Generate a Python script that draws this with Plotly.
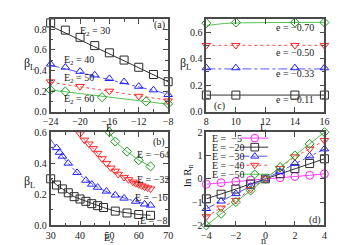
import plotly.graph_objects as go

W, H = 350, 245
def px(x): return x / W
def py(y): return 1 - y / H

SERIF = "Liberation Serif"
TXT = "#1a1a1a"
FRAME = "#4a4a4a"

# ---------------- Panel (a): beta_L vs E ----------------
a_E30_x = [-24, -22, -20, -18, -16, -14, -12, -10, -8]
a_E30_y = [0.86, 0.79, 0.72, 0.64, 0.57, 0.50, 0.43, 0.36, 0.29]
a_E40_x = [-24, -22, -20, -18, -16, -14, -12, -10, -8]
a_E40_y = [0.46, 0.43, 0.39, 0.355, 0.32, 0.29, 0.245, 0.21, 0.165]
a_E50_x = [-24, -20, -16, -12, -8]
a_E50_y = [0.29, 0.245, 0.20, 0.15, 0.105]
a_E60_x = [-24, -22, -17, -11, -8]
a_E60_y = [0.21, 0.195, 0.14, 0.10, 0.075]
a_fit_x = [-24, -8]
a_fit30 = [0.83, 0.29]
a_fit40 = [0.45, 0.17]
a_fit50 = [0.285, 0.11]
a_fit60 = [0.21, 0.072]

# ---------------- Panel (c): beta_L vs L ----------------
c_L = [8, 10, 14, 16]
c_e070 = [0.667, 0.672, 0.672, 0.672]
c_e050 = [0.50, 0.50, 0.50, 0.50]
c_e033 = [0.33, 0.33, 0.33, 0.33]
c_e011 = [0.125, 0.125, 0.125, 0.125]
c_fit_x = [8, 9, 10, 12, 14, 16]
c_fit070 = [0.648, 0.662, 0.668, 0.671, 0.672, 0.673]
c_fit_flat_x = [8, 16]
c_fit050 = [0.50, 0.50]
c_fit033 = [0.322, 0.322]
c_fit011 = [0.125, 0.125]

# ---------------- Panel (b): beta_L vs E2 ----------------
b_E8_x = [30, 32, 34, 36, 38, 40, 42, 44, 46, 48, 52, 56, 60, 64]
b_E8_y = [0.30, 0.26, 0.235, 0.21, 0.185, 0.17, 0.155, 0.14, 0.127, 0.115, 0.092, 0.08, 0.07, 0.065]
b_E16_x = [32, 33, 34, 36, 39, 42, 44, 46, 49, 52, 55, 59, 62, 64]
b_E16_y = [0.50, 0.47, 0.445, 0.40, 0.34, 0.29, 0.265, 0.245, 0.22, 0.195, 0.175, 0.155, 0.137, 0.13]
b_E16_fit_x = [30, 32, 34, 36, 39, 42, 46, 52, 59, 64]
b_E16_fit_y = [0.555, 0.50, 0.445, 0.40, 0.34, 0.295, 0.245, 0.195, 0.155, 0.13]
b_E32_x = [40, 41.5, 43, 44.5, 46, 47.5, 49, 50.5, 52, 53, 55, 56.5, 58, 59, 60, 61, 62, 63, 64]
b_E32_y = [0.59, 0.55, 0.525, 0.495, 0.465, 0.43, 0.40, 0.37, 0.35, 0.33, 0.31, 0.295,
           0.28, 0.27, 0.263, 0.255, 0.248, 0.242, 0.235]
b_E64_x = [50, 52, 56, 60, 64]
b_E64_y = [0.60, 0.54, 0.475, 0.42, 0.38]

# ---------------- Panel (d): ln R_n vs n ----------------
d_n = [-4, -3, -2, -1, 0, 1, 2, 3, 4]
d_E5 = [-0.23, -0.17, -0.12, -0.06, 0, 0.05, 0.10, 0.15, 0.21]
d_E20 = [-0.86, -0.66, -0.44, -0.22, 0, 0.22, 0.44, 0.66, 0.86]
d_E30 = [-1.28, -0.96, -0.64, -0.32, 0, 0.32, 0.66, 0.98, 1.28]
d_E40 = [-1.62, -1.25, -0.92, -0.45, 0, 0.45, 0.95, 1.28, 1.65]
d_E50 = [-2.0, -1.5, -1.0, -0.5, 0, 0.5, 1.0, 1.5, 2.0]
d_labels = ["E =  \u22125", "E = \u221220", "E = \u221230", "E = \u221240", "E = \u221250"]

# colours
C_BLK, L_BLK = "#2a2a2a", "#333333"
C_BLU, L_BLU = "#2020ff", "#5555ff"
C_RED, L_RED = "#ff2424", "#ff4a4a"
C_GRN, L_GRN = "#1a9a1a", "#55c055"
C_MAG, L_MAG = "#ff22ff", "#ff44ff"

fig = go.Figure()

def lines(xs, ys, xa, ya, color, dash="solid", shape="linear", width=1):
    fig.add_trace(go.Scatter(x=xs, y=ys, xaxis=xa, yaxis=ya, mode="lines",
                             line=dict(color=color, width=width, dash=dash, shape=shape),
                             showlegend=False, cliponaxis=False, hoverinfo="skip"))

def marks(xs, ys, xa, ya, color, symbol, size=8):
    fig.add_trace(go.Scatter(x=xs, y=ys, xaxis=xa, yaxis=ya, mode="markers",
                             marker=dict(symbol=symbol, size=size, color=color,
                                         line=dict(width=1, color=color)),
                             showlegend=False, cliponaxis=False, hoverinfo="skip"))

def both(xs, ys, xa, ya, mc, lc, symbol, dash="solid", size=8):
    fig.add_trace(go.Scatter(x=xs, y=ys, xaxis=xa, yaxis=ya, mode="lines+markers",
                             line=dict(color=lc, width=1, dash=dash),
                             marker=dict(symbol=symbol, size=size, color=mc,
                                         line=dict(width=1, color=mc)),
                             showlegend=False, cliponaxis=False, hoverinfo="skip"))

# (a)
lines(a_fit_x, a_fit30, "x", "y", L_BLK)
lines(a_fit_x, a_fit40, "x", "y", L_BLU, dash="dashdot")
lines(a_fit_x, a_fit50, "x", "y", L_RED, dash="dot")
lines(a_fit_x, a_fit60, "x", "y", L_GRN)
marks(a_E30_x, a_E30_y, "x", "y", C_BLK, "square-open", 8)
marks(a_E40_x, a_E40_y, "x", "y", C_BLU, "triangle-up-open", 7.5)
marks(a_E50_x, a_E50_y, "x", "y", C_RED, "triangle-down-open", 7.5)
marks(a_E60_x, a_E60_y, "x", "y", C_GRN, "diamond-open", 7)

# (c)
lines(c_fit_x, c_fit070, "x2", "y2", L_GRN, shape="spline")
lines(c_fit_flat_x, c_fit050, "x2", "y2", L_RED, dash="dot")
lines(c_fit_flat_x, c_fit033, "x2", "y2", L_BLU, dash="dashdot")
lines(c_fit_flat_x, c_fit011, "x2", "y2", L_BLK)
marks(c_L, c_e070, "x2", "y2", C_GRN, "diamond-open", 7)
marks(c_L, c_e050, "x2", "y2", C_RED, "triangle-down-open", 7.5)
marks(c_L, c_e033, "x2", "y2", C_BLU, "triangle-up-open", 7.5)
marks(c_L, c_e011, "x2", "y2", C_BLK, "square-open", 8)

# (b)
lines(b_E16_fit_x, b_E16_fit_y, "x3", "y3", L_BLU, dash="dashdot", shape="spline")
both(b_E8_x, b_E8_y, "x3", "y3", C_BLK, L_BLK, "square-open", size=8)
marks(b_E16_x, b_E16_y, "x3", "y3", C_BLU, "triangle-up-open", 7.5)
both(b_E32_x, b_E32_y, "x3", "y3", C_RED, L_RED, "triangle-down-open", dash="dot", size=7.5)
both(b_E64_x, b_E64_y, "x3", "y3", C_GRN, L_GRN, "diamond-open", size=7)

# (d)
both(d_n, d_E5, "x4", "y4", C_MAG, L_MAG, "circle-open", size=8)
both(d_n, d_E20, "x4", "y4", C_BLK, L_BLK, "square-open", size=8)
both(d_n, d_E30, "x4", "y4", C_BLU, L_BLU, "triangle-up-open", dash="dashdot", size=7.5)
both(d_n, d_E40, "x4", "y4", C_RED, L_RED, "triangle-down-open", dash="dot", size=7.5)
both(d_n, d_E50, "x4", "y4", C_GRN, L_GRN, "diamond-open", size=7)

base = dict(showline=True, linecolor=FRAME, linewidth=1.6, mirror="ticks",
            ticks="inside", ticklen=5, tickwidth=1, tickcolor=FRAME,
            showgrid=False, zeroline=False, fixedrange=True,
            tickfont=dict(family=SERIF, size=10, color=TXT))
def minor(d):
    return dict(ticks="inside", ticklen=3, dtick=d, tickcolor=FRAME, showgrid=False)

xL = [px(36), px(158)]
xR = [px(197.7), px(320.3)]
yT = [py(102.7), py(5)]
yB = [py(222.3), py(124.3)]

fig.update_layout(
    width=W, height=H, autosize=False,
    margin=dict(l=0, r=0, t=0, b=0),
    paper_bgcolor="white", plot_bgcolor="white",
    xaxis=dict(base, domain=xL, range=[-24, -8], tick0=-24, dtick=4, anchor="y", minor=minor(2)),
    yaxis=dict(base, domain=yT, range=[0, 0.9], tick0=0, dtick=0.2, tickformat=".1f", anchor="x", minor=minor(0.1)),
    xaxis2=dict(base, domain=xR, range=[8, 16], tick0=8, dtick=2, anchor="y2"),
    yaxis2=dict(base, domain=yT, range=[0, 0.7], tick0=0, dtick=0.2, tickformat=".1f", anchor="x2", minor=minor(0.1)),
    xaxis3=dict(base, domain=xL, range=[30, 70], tick0=30, dtick=10, anchor="y3", minor=minor(5)),
    yaxis3=dict(base, domain=yB, range=[0, 0.6], tick0=0, dtick=0.2, tickformat=".1f", anchor="x3", minor=minor(0.1)),
    xaxis4=dict(base, domain=xR, range=[-4, 4], tick0=-4, dtick=2, anchor="y4"),
    yaxis4=dict(base, domain=yB, range=[-2, 2], tick0=-2, dtick=1, anchor="x4"),
)

anns = []
def ann(text, x, y, size=10, xanchor="center", angle=0, color=TXT):
    anns.append(dict(text=text, x=px(x), y=py(y), xref="paper", yref="paper",
                     xanchor=xanchor, yanchor="middle", showarrow=False, textangle=angle,
                     font=dict(family=SERIF, size=size, color=color)))

# axis titles
ann("\u03b2<sub>L</sub>", 14, 53, size=12)
ann("E", 97, 119, size=10)
ann("\u03b2<sub>L</sub>", 176, 53, size=12)
ann("L", 257, 119, size=10)
ann("\u03b2<sub>L</sub>", 14, 177, size=12)
ann("E<sub>2</sub>", 97, 236, size=10)
ann("ln R<sub>n</sub>", 178, 170, size=11, angle=-90)
ann("n", 257, 238, size=10)

# panel (a) labels
ann("E<sub>2</sub> = 30", 82, 18)
ann("E<sub>2</sub> = 40", 65, 49)
ann("E<sub>2</sub> = 50", 65, 68)
ann("E<sub>2</sub> = 60", 65, 90)
ann("(a)", 149, 12)
# panel (c) labels
ann("e = \u22120.70", 290, 14)
ann("e = \u22120.50", 290, 40)
ann("e = \u22120.33", 290, 63)
ann("e = \u22120.11", 290, 90)
ann("(c)", 211, 97)
# panel (b) labels
ann("E = \u221264", 142, 148)
ann("E = \u221232", 142, 174)
ann("E = \u221216", 140, 193)
ann("E = \u22128", 143, 217)
ann("(b)", 148, 135)
# panel (d)
ann("(d)", 311, 217)

# manual legend for (d): text left, sample right
rows = [130.5, 140, 149.5, 159, 168.5]
leg_colors = [(C_MAG, L_MAG, "solid", "circle"), (C_BLK, L_BLK, "solid", "square"),
              (C_BLU, L_BLU, "dashdot", "tri_up"), (C_RED, L_RED, "dot", "tri_down"),
              (C_GRN, L_GRN, "solid", "diamond")]
shapes = []
def P(x, y): return f"{px(x):.5f},{py(y):.5f}"
for lab, ry, (mc, lc, dsh, sym) in zip(d_labels, rows, leg_colors):
    ann(lab, 201, ry, xanchor="left")
    shapes.append(dict(type="line", xref="paper", yref="paper", x0=px(233), x1=px(262),
                       y0=py(ry), y1=py(ry), line=dict(color=lc, width=1, dash=dsh)))
    cx, cy = 248, ry
    if sym == "circle":
        shapes.append(dict(type="circle", xref="paper", yref="paper", x0=px(cx - 4), x1=px(cx + 4),
                           y0=py(cy + 4), y1=py(cy - 4), line=dict(color=mc, width=1)))
    elif sym == "square":
        shapes.append(dict(type="rect", xref="paper", yref="paper", x0=px(cx - 4), x1=px(cx + 4),
                           y0=py(cy + 4), y1=py(cy - 4), line=dict(color=mc, width=1)))
    elif sym == "tri_up":
        path = f"M{P(cx-4.3, cy+2)} L{P(cx+4.3, cy+2)} L{P(cx, cy-3.8)} Z"
        shapes.append(dict(type="path", xref="paper", yref="paper", path=path, line=dict(color=mc, width=1)))
    elif sym == "tri_down":
        path = f"M{P(cx-4.3, cy-2)} L{P(cx+4.3, cy-2)} L{P(cx, cy+3.8)} Z"
        shapes.append(dict(type="path", xref="paper", yref="paper", path=path, line=dict(color=mc, width=1)))
    else:
        path = f"M{P(cx, cy-4.5)} L{P(cx+4.5, cy)} L{P(cx, cy+4.5)} L{P(cx-4.5, cy)} Z"
        shapes.append(dict(type="path", xref="paper", yref="paper", path=path, line=dict(color=mc, width=1)))

fig.update_layout(annotations=anns, shapes=shapes)
fig.write_html("out.html")
